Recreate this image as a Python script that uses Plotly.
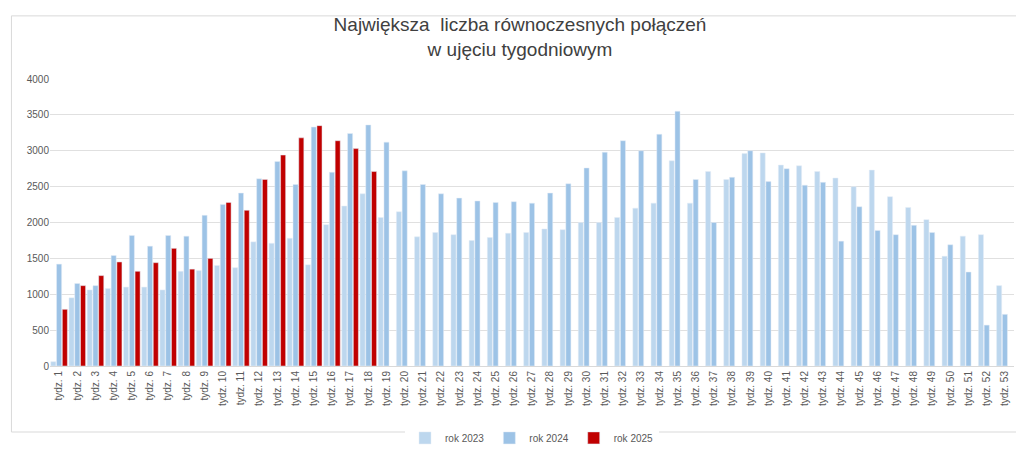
import plotly.graph_objects as go

weeks = [f"tydz. {i}" for i in range(1, 54)]
y2023 = [60,950,1060,1080,1100,1100,1060,1320,1330,1400,1370,1730,1710,1780,1410,1970,2230,2400,
         2070,2150,1800,1860,1830,1750,1790,1850,1860,1910,1900,2000,2000,2070,2200,2270,2860,2270,
         2710,2600,2960,2970,2800,2790,2710,2620,2500,2730,2360,2210,2040,1530,1810,1830,1120]
y2024 = [1420,1150,1120,1540,1820,1670,1820,1810,2100,2250,2410,2610,2850,2530,3330,2700,3240,3360,
         3120,2720,2530,2400,2340,2300,2280,2290,2270,2410,2540,2760,2980,3140,3000,3230,3550,2600,
         2000,2630,3000,2570,2750,2520,2560,1740,2220,1890,1830,1960,1860,1690,1310,570,720]
y2025 = [790,1120,1260,1450,1320,1440,1640,1350,1500,2280,2170,2600,2940,3180,3350,3140,3030,2710]

fig = go.Figure()
fig.add_bar(x=weeks, y=y2023, name="rok 2023", marker_color="#BDD7EE")
fig.add_bar(x=weeks, y=y2024, name="rok 2024", marker_color="#9DC3E6")
fig.add_bar(x=weeks[:len(y2025)], y=y2025, name="rok 2025", marker_color="#C00000")

fig.update_layout(
    width=1024, height=456, barmode="group", bargap=0.05, bargroupgap=0.12,
    paper_bgcolor="white", plot_bgcolor="white",
    font=dict(family="Liberation Sans, Arial", color="#595959", size=10),
    title=dict(text="Największa  liczba równoczesnych połączeń<br>w ujęciu tygodniowym",
               x=0.5, xanchor="center", y=0.95, yanchor="top",
               font=dict(size=19, color="#404040")),
    margin=dict(l=42, r=18, t=71, b=67),
    legend=dict(orientation="h", x=0.5, xanchor="center", y=-0.2, yanchor="top",
                font=dict(size=10, color="#595959")),
    xaxis=dict(tickangle=-90, tickfont=dict(size=10), showline=True, linecolor="#D9D9D9",
               ticks=""),
    yaxis=dict(range=[0, 4000], dtick=500, gridcolor="#E0E0E0", zeroline=False,
               tickfont=dict(size=10)),
    shapes=[dict(type="rect", xref="paper", yref="paper", x0=-0.04, x1=1.015, y0=-0.23, y1=1.22,
                 line=dict(color="#D9D9D9", width=1))],
)
fig.write_html("out.html")
